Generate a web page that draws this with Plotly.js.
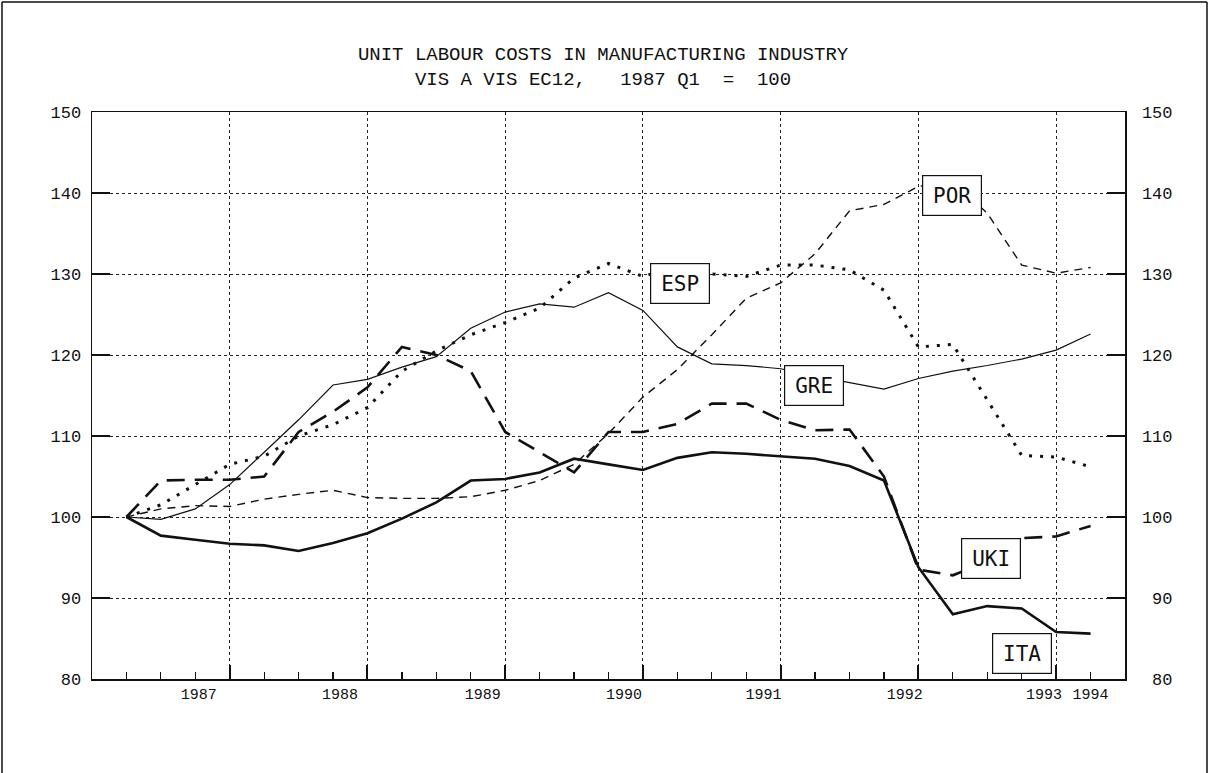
<!DOCTYPE html>
<html>
<head>
<meta charset="utf-8">
<script src="https://cdn.plot.ly/plotly-3.0.1.min.js"></script>
<style>html,body{margin:0;padding:0;background:#fff;}#chart{width:1209px;height:773px;}</style>
</head>
<body>
<div id="chart"></div>
<script>
// Quarterly observations, 1987 Q1 .. 1994 Q1
const quarters = ['1987Q1','1987Q2','1987Q3','1987Q4','1988Q1','1988Q2','1988Q3','1988Q4',
  '1989Q1','1989Q2','1989Q3','1989Q4','1990Q1','1990Q2','1990Q3','1990Q4',
  '1991Q1','1991Q2','1991Q3','1991Q4','1992Q1','1992Q2','1992Q3','1992Q4',
  '1993Q1','1993Q2','1993Q3','1993Q4','1994Q1'];

const GRE = [100, 99.7, 101, 104, 108, 112, 116.3, 117, 118.5, 119.8, 123.3, 125.3, 126.3, 125.9, 127.7, 125.5,
  121, 118.9, 118.7, 118.3, 117.4, 116.6, 115.8, 117.1, 118, 118.7, 119.5, 120.6, 122.6];
const ESP = [100, 101.5, 104, 106.5, 107.5, 110, 111.4, 113.5, 118, 120.5, 122.5, 124, 125.8, 129.5, 131.3, 129.7,
  130.9, 130, 129.7, 131.1, 131.1, 130.5, 128, 121, 121.3, 114.5, 107.6, 107.4, 106.2];
const POR = [100, 101, 101.4, 101.3, 102.2, 102.8, 103.3, 102.4, 102.3, 102.3, 102.5, 103.3, 104.5, 106.5, 110.3, 114.8,
  118.2, 122.5, 127, 128.9, 132.5, 137.8, 138.6, 140.8, 141.5, 137.5, 131.1, 130.1, 130.8];
const UKI = [100, 104.5, 104.6, 104.6, 105, 110.5, 113, 116, 121, 120, 118, 110.5, 108, 105.5, 110.5, 110.5,
  111.5, 114, 114, 112, 110.7, 110.8, 105, 93.5, 92.8, 94.5, 97.4, 97.6, 98.9];
const ITA = [100, 97.7, 97.2, 96.7, 96.5, 95.8, 96.8, 98, 99.8, 101.8, 104.5, 104.7, 105.5, 107.2, 106.5, 105.8,
  107.3, 108, 107.8, 107.5, 107.2, 106.3, 104.5, 93.8, 88, 89, 88.7, 85.8, 85.6];

const yearLabels = ['1987','1988','1989','1990','1991','1992','1993','1994'];
const yTicks = [80, 90, 100, 110, 120, 130, 140, 150];
const seriesNames = ['GRE','ESP','POR','UKI','ITA'];

// layout helpers (positions, not data)
const yearLabelPos = [2.1, 6.2, 10.35, 14.45, 18.5, 22.6, 26.65, 28];
const yearGridPos = [3, 7, 11, 15, 19, 23, 27];
const labelPos = {GRE:[19.97,116.2], ESP:[16.08,128.85], POR:[23.97,139.65], UKI:[25.12,94.9], ITA:[26.0,83.2]};

const xs = quarters.map((q, i) => i);
const ink = '#111';
const styles = {
  GRE: {color: ink, width: 1.2, dash: 'solid'},
  ESP: {color: ink, width: 3, dash: '3px,8px'},
  POR: {color: ink, width: 1.4, dash: '8px,6px'},
  UKI: {color: ink, width: 2.6, dash: '18px,10px'},
  ITA: {color: ink, width: 2.6, dash: 'solid'}
};
const values = {GRE, ESP, POR, UKI, ITA};

const traces = seriesNames.map(n => ({
  x: xs, y: values[n], type: 'scatter', mode: 'lines', name: n,
  line: styles[n], showlegend: false, hoverinfo: 'skip'
}));
// helper trace to host the overlay axes (right scale and year grid)
traces.push({x: [xs[0]], y: [ITA[0]], xaxis: 'x2', yaxis: 'y2', type: 'scatter', mode: 'lines',
  line: {width: 0}, showlegend: false, hoverinfo: 'skip'});

const fs = '\u2007';
const nb = '\u00a0';
const tickFont = {family: 'Liberation Mono, DejaVu Sans Mono, monospace', size: 17, color: ink};

const x0 = (2 - 92) / 1033, x1 = (1207 - 92) / 1033, yTop = (679 - 2) / 567, yBot = (679 - 773) / 567;

const layout = {
  width: 1209, height: 773,
  margin: {l: 92, r: 84, t: 112, b: 94},
  paper_bgcolor: '#fff', plot_bgcolor: '#fff',
  title: {
    text: 'UNIT LABOUR COSTS IN MANUFACTURING INDUSTRY<br>VIS A VIS EC12,' + nb + nb + nb + '1987 Q1' + nb + nb + '=' + nb + nb + '100',
    font: {family: 'Liberation Mono, DejaVu Sans Mono, monospace', size: 19, color: ink},
    x: 0.4988, xanchor: 'center', xref: 'container', y: 1 - 60/773, yanchor: 'middle', yref: 'container'
  },
  xaxis: {
    range: [-1, 29], showgrid: false, zeroline: false,
    tickmode: 'array', tickvals: yearLabelPos, ticktext: yearLabels, ticks: '',
    tickfont: {family: 'Liberation Mono, DejaVu Sans Mono, monospace', size: 15, color: ink},
    showline: true, linecolor: ink, linewidth: 1.5, mirror: true
  },
  xaxis2: {
    range: [-1, 29], overlaying: 'x', side: 'bottom', zeroline: false,
    tickmode: 'array', tickvals: yearGridPos, showticklabels: false,
    showgrid: true, gridcolor: '#222', gridwidth: 1, griddash: 'dot',
    ticks: 'inside', ticklen: 14, tickwidth: 2, tickcolor: ink,
    minor: {tickmode: 'linear', tick0: 0, dtick: 1, ticks: 'inside', ticklen: 7, tickwidth: 1.2, tickcolor: ink, showgrid: false},
    showline: false
  },
  yaxis: {
    range: [80, 150], tickmode: 'array', tickvals: yTicks, ticktext: yTicks.map(String),
    showgrid: true, gridcolor: '#222', gridwidth: 1, griddash: 'dot', zeroline: false,
    ticks: 'inside', ticklen: 18, tickwidth: 1.5, tickcolor: ink, ticklabelstandoff: 6,
    tickfont: tickFont, showline: true, linecolor: ink, linewidth: 1.5
  },
  yaxis2: {
    range: [80, 150], overlaying: 'y', side: 'right', tickmode: 'array', tickvals: yTicks,
    ticktext: yTicks.map(v => (v < 100 ? fs : '') + v),
    showgrid: false, zeroline: false,
    ticks: 'inside', ticklen: 18, tickwidth: 1.5, tickcolor: ink, ticklabelstandoff: 12,
    tickfont: tickFont, showline: true, linecolor: ink, linewidth: 1.5
  },
  annotations: seriesNames.map(n => ({
    x: labelPos[n][0], y: labelPos[n][1], xref: 'x', yref: 'y', text: n, showarrow: false,
    font: {family: 'DejaVu Sans Mono, Liberation Mono, monospace', size: 21, color: ink},
    bgcolor: '#fff', bordercolor: ink, borderwidth: 1.2, borderpad: 1, width: 56, height: 37
  })),
  shapes: [
    {type: 'line', xref: 'paper', yref: 'paper', x0: x0, x1: x1, y0: yTop, y1: yTop, line: {color: ink, width: 1.5}},
    {type: 'line', xref: 'paper', yref: 'paper', x0: x0, x1: x0, y0: yTop, y1: yBot, line: {color: ink, width: 1.5}},
    {type: 'line', xref: 'paper', yref: 'paper', x0: x1, x1: x1, y0: yTop, y1: yBot, line: {color: ink, width: 1.5}}
  ]
};

Plotly.newPlot('chart', traces, layout, {staticPlot: true, displayModeBar: false});
</script>
</body>
</html>
